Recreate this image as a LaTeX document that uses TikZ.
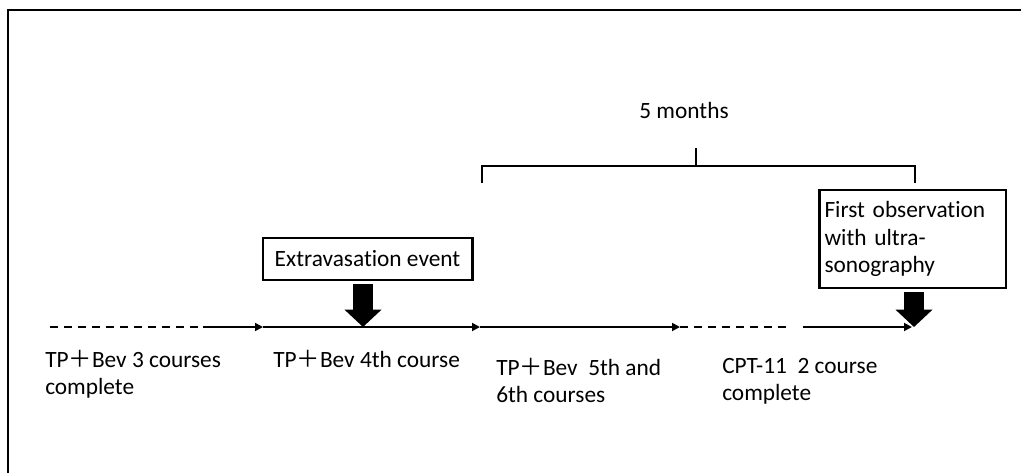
\documentclass[tikz,border=0pt]{standalone}
\usepackage{fontspec}
\setmainfont{Carlito}[Ligatures={NoCommon}]
\newfontfamily\cjk{Noto Sans CJK SC}
\usetikzlibrary{arrows.meta}
\newcommand{\pls}{{\cjk ＋}}
\begin{document}
\begin{tikzpicture}[x=0.75pt,y=-0.75pt,
  every node/.style={font=\fontsize{17.5}{20.5}\selectfont},
  lbl/.style={anchor=north west,inner sep=0pt,align=left},
  evbox/.style={draw,line width=2pt,inner sep=0pt},
  tl/.style={line width=1.3pt},
  tlarrow/.style={tl,-{Triangle[length=6pt,width=6pt]}},
  tldash/.style={tl,dash pattern=on 6pt off 4.5pt},
  fat/.style={line width=15pt,-{Triangle[length=13pt,width=27pt]},shorten <=2pt},
  bracket/.style={line width=1.3pt}]
\useasboundingbox (0,0) rectangle (1021,472);
% frame (left and top edges visible)
\draw[line width=1.6pt] (8,480) -- (8,10) -- (1030,10);
% timeline coordinates
\coordinate (t0) at (50,327);
\coordinate (t1) at (203,327);
\coordinate (t2) at (263,327);
\coordinate (t3) at (480,327);
\coordinate (t4) at (680,327);
\coordinate (t5) at (790,327);
\coordinate (t6) at (803,327);
\coordinate (t7) at (912,327);
\draw[tldash] (t0) -- (t1);
\draw[tlarrow] (t1) -- (t2);
\draw[tlarrow] (t2) -- (t3);
\draw[tlarrow] (t3) -- (t4);
\draw[tldash] (t4) -- (t5);
\draw[tlarrow] (t6) -- (t7);
% event boxes
\node[evbox,minimum width=157pt,minimum height=31.5pt] (ext) at (367.5,259) {Extravasation event};
\node[evbox,minimum width=140pt,minimum height=73.5pt,text width=132pt,align=left] (obs) at (912.5,239)
  {First observation\\with ultra-\\sonography};
\coordinate (extt) at (363,327);
\coordinate (obst) at (914,327);
\draw[fat] (ext.south -| extt) -- (extt);
\draw[fat] (obs.south -| obst) -- (obst);
% bracket
\coordinate (bl) at (482,183);
\coordinate (br) at (915,183);
\coordinate (bm) at (696,148);
\draw[bracket] (bl) -- (482,166) -- (915,166) -- (br);
\draw[bracket] (696,166) -- (bm);
\node (months) at (684,110) {5 months};
% labels
\node[lbl] (l1) at (45,350) {TP\pls Bev 3 courses\\complete};
\node[lbl] (l2) at (273,350) {TP\pls Bev 4th course};
\node[lbl] (l3) at (496,358) {TP\pls Bev\ \ 5th and\\6th courses};
\node[lbl] (l4) at (722,358) {CPT-11\ \ 2 course\\complete};
\end{tikzpicture}
\end{document}
